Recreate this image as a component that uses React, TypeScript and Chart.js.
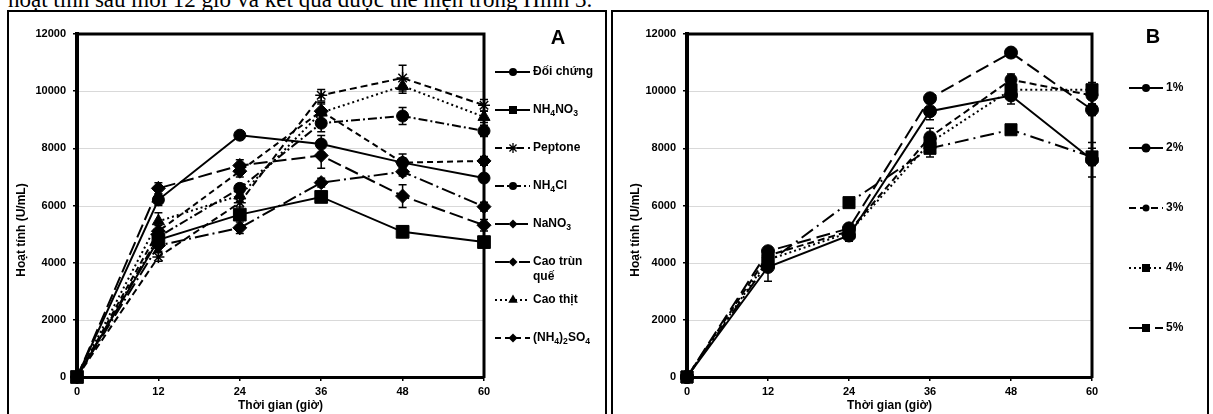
import React, { useEffect, useRef } from 'react';
import { Chart, registerables } from 'chart.js';

Chart.register(...registerables);

// ---------- shared axes / text ----------
const hours = [0, 12, 24, 36, 48, 60];
const yTickValues = [0, 2000, 4000, 6000, 8000, 10000, 12000];
const xTitle = 'Thời gian (giờ)';
const yTitle = 'Hoạt tính (U/mL)';
const headerText = 'hoạt tính sau mỗi 12 giờ và kết quả được thể hiện trong Hình 3.';

// ---------- Panel A : nitrogen sources ----------
const namesA = ['Đối chứng', 'NH₄NO₃', 'Peptone', 'NH₄Cl', 'NaNO₃', 'Cao trùn quế', 'Cao thịt', '(NH₄)₂SO₄'];
const doiChung = [0, 6200, 8460, 8150, 7500, 6960];
const nh4no3 = [0, 4800, 5680, 6300, 5080, 4720];
const peptone = [0, 4200, 6100, 9860, 10460, 9510];
const nh4cl = [0, 4900, 6600, 8880, 9130, 8610];
const nano3 = [0, 6600, 7400, 7750, 6330, 5310];
const caoTrunQue = [0, 4600, 5220, 6800, 7180, 5960];
const caoThit = [0, 5450, 6350, 9250, 10180, 9100];
const nh42so4 = [0, 5100, 7200, 9300, 7500, 7560];

const errDoiChung = [0, 200, 100, 300, 150, 150];
const errNh4no3 = [0, 200, 150, 150, 200, 100];
const errPeptone = [0, 150, 150, 200, 450, 200];
const errNh4cl = [0, 200, 150, 300, 300, 200];
const errNano3 = [0, 200, 200, 450, 400, 200];
const errCaoTrunQue = [0, 200, 200, 150, 150, 150];
const errCaoThit = [0, 300, 200, 300, 250, 200];
const errNh42so4 = [0, 200, 200, 300, 300, 150];

// ---------- Panel B : concentrations ----------
const namesB = ['1%', '2%', '3%', '4%', '5%'];
const pct1 = [0, 3850, 4950, 9300, 9850, 7600];
const pct2 = [0, 4400, 5200, 9750, 11350, 9350];
const pct3 = [0, 4250, 5100, 8400, 10400, 9850];
const pct4 = [0, 4100, 5050, 8200, 10050, 10050];
const pct5 = [0, 4000, 6100, 8000, 8650, 7700];

const errPct1 = [0, 500, 200, 300, 300, 600];
const errPct2 = [0, 150, 150, 150, 150, 200];
const errPct3 = [0, 150, 150, 300, 200, 300];
const errPct4 = [0, 150, 150, 200, 200, 250];
const errPct5 = [0, 150, 150, 300, 150, 300];

// ---------- styles ----------
type Sty = { dash: number[]; point: string; r: number; lr: number };
const stylesA: Sty[] = [
  { dash: [], point: 'circle', r: 6, lr: 4 },
  { dash: [], point: 'rect', r: 9, lr: 4 },
  { dash: [7, 4], point: 'star', r: 6, lr: 5 },
  { dash: [9, 3, 2, 3], point: 'circle', r: 6, lr: 4 },
  { dash: [14, 5], point: 'rectRot', r: 7, lr: 4.5 },
  { dash: [14, 4, 2, 4], point: 'rectRot', r: 7, lr: 4.5 },
  { dash: [2, 3], point: 'triangle', r: 7, lr: 5.5 },
  { dash: [6, 4], point: 'rectRot', r: 7, lr: 4.5 },
];
const stylesB: Sty[] = [
  { dash: [], point: 'circle', r: 6.5, lr: 4 },
  { dash: [14, 6], point: 'circle', r: 6.5, lr: 4.5 },
  { dash: [7, 4], point: 'circle', r: 6, lr: 3.5 },
  { dash: [2, 3], point: 'rect', r: 8.5, lr: 4 },
  { dash: [14, 5, 2, 5], point: 'rect', r: 8.5, lr: 4 },
];

const FONT = '"Liberation Sans", Arial, sans-serif';
const SUBS: Record<string, string> = { '₀': '0', '₁': '1', '₂': '2', '₃': '3', '₄': '4', '₅': '5', '₆': '6', '₇': '7', '₈': '8', '₉': '9' };

function richWidth(ctx: CanvasRenderingContext2D, text: string, px: number) {
  let w = 0;
  for (const ch of text) {
    if (SUBS[ch]) { ctx.font = `bold ${px * 0.72}px ${FONT}`; w += ctx.measureText(SUBS[ch]).width; }
    else { ctx.font = `bold ${px}px ${FONT}`; w += ctx.measureText(ch).width; }
  }
  return w;
}

function drawRich(ctx: CanvasRenderingContext2D, text: string, x: number, y: number, px: number) {
  ctx.textAlign = 'left';
  ctx.textBaseline = 'middle';
  let cx = x;
  for (const ch of text) {
    if (SUBS[ch]) {
      ctx.font = `bold ${px * 0.72}px ${FONT}`;
      ctx.fillText(SUBS[ch], cx, y + px * 0.3);
      cx += ctx.measureText(SUBS[ch]).width;
    } else {
      ctx.font = `bold ${px}px ${FONT}`;
      ctx.fillText(ch, cx, y);
      cx += ctx.measureText(ch).width;
    }
  }
}

function drawMarker(ctx: CanvasRenderingContext2D, kind: string, x: number, y: number, r: number) {
  ctx.save();
  ctx.setLineDash([]);
  ctx.fillStyle = '#000';
  ctx.strokeStyle = '#000';
  ctx.lineWidth = 1.3;
  ctx.beginPath();
  if (kind === 'circle') { ctx.arc(x, y, r, 0, Math.PI * 2); ctx.fill(); }
  else if (kind === 'rect') { ctx.rect(x - r, y - r, 2 * r, 2 * r); ctx.fill(); }
  else if (kind === 'rectRot') { ctx.moveTo(x - r, y); ctx.lineTo(x, y - r); ctx.lineTo(x + r, y); ctx.lineTo(x, y + r); ctx.closePath(); ctx.fill(); }
  else if (kind === 'triangle') { ctx.moveTo(x, y - r); ctx.lineTo(x + r * 0.866, y + r * 0.5); ctx.lineTo(x - r * 0.866, y + r * 0.5); ctx.closePath(); ctx.fill(); }
  else if (kind === 'star') {
    for (let k = 0; k < 4; k++) {
      const a = (k * Math.PI) / 4;
      ctx.moveTo(x - Math.cos(a) * r, y - Math.sin(a) * r);
      ctx.lineTo(x + Math.cos(a) * r, y + Math.sin(a) * r);
    }
    ctx.stroke();
  }
  ctx.restore();
}

type PanelCfg = {
  letter: string;
  left: number; top: number; w: number; h: number;
  yWidth: number; padRight: number;
  names: string[]; series: number[][]; errors: number[][]; styles: Sty[];
  legX0: number; legX1: number; legMarkX: number; legTextX: number; legY0: number; legStep: number; legWrap: number;
  letterX: number; letterY: number; yTitleX: number; yTitleY: number; xTitleY: number;
};

function makeDecor(cfg: PanelCfg) {
  return {
    id: 'decor' + cfg.letter,
    beforeDatasetsDraw(chart: any) {
      const { ctx, chartArea: a, scales } = chart;
      const y = scales.y;
      ctx.save();
      ctx.strokeStyle = '#d9d9d9';
      ctx.lineWidth = 1;
      yTickValues.forEach((v) => {
        if (v <= 0 || v >= 12000) return;
        const py = Math.round(y.getPixelForValue(v)) + 0.5;
        ctx.beginPath();
        ctx.moveTo(a.left + 2, py);
        ctx.lineTo(a.right, py);
        ctx.stroke();
      });
      ctx.strokeStyle = '#000';
      ctx.lineWidth = 3;
      ctx.beginPath();
      ctx.moveTo(a.left - 2, a.top);
      ctx.lineTo(a.right, a.top);
      ctx.lineTo(a.right, a.bottom + 1);
      ctx.stroke();
      ctx.restore();
    },
    afterDatasetsDraw(chart: any) {
      const { ctx, scales } = chart;
      const x = scales.x, y = scales.y;
      ctx.save();
      ctx.strokeStyle = '#000';
      ctx.lineWidth = 1.5;
      ctx.setLineDash([]);
      cfg.series.forEach((vals, i) => {
        vals.forEach((v, j) => {
          const e = cfg.errors[i][j];
          if (!e) return;
          const px = x.getPixelForValue(hours[j]);
          const y1 = y.getPixelForValue(v - e);
          const y2 = y.getPixelForValue(v + e);
          ctx.beginPath();
          ctx.moveTo(px, y1); ctx.lineTo(px, y2);
          ctx.moveTo(px - 4, y1); ctx.lineTo(px + 4, y1);
          ctx.moveTo(px - 4, y2); ctx.lineTo(px + 4, y2);
          ctx.stroke();
        });
      });
      ctx.restore();
    },
    afterDraw(chart: any) {
      const { ctx, chartArea: a } = chart;
      ctx.save();
      ctx.fillStyle = '#000';
      // legend
      cfg.names.forEach((name, k) => {
        const ly = cfg.legY0 + k * cfg.legStep;
        const st = cfg.styles[k];
        ctx.save();
        ctx.strokeStyle = '#000';
        ctx.lineWidth = 2;
        ctx.setLineDash(st.dash);
        ctx.beginPath();
        ctx.moveTo(cfg.legX0, ly);
        ctx.lineTo(cfg.legX1, ly);
        ctx.stroke();
        ctx.restore();
        drawMarker(ctx, st.point, cfg.legMarkX, ly, st.lr);
        const words = name.split(' ');
        const lines: string[] = [];
        let cur = '';
        words.forEach((wd) => {
          const test = cur ? cur + ' ' + wd : wd;
          if (cur && richWidth(ctx, test, 12) > cfg.legWrap) { lines.push(cur); cur = wd; }
          else cur = test;
        });
        if (cur) lines.push(cur);
        lines.forEach((ln, li) => {
          drawRich(ctx, ln, cfg.legTextX, ly + li * 15, 12);
        });
      });
      // panel letter
      ctx.font = `bold 20px ${FONT}`;
      ctx.textAlign = 'center';
      ctx.textBaseline = 'middle';
      ctx.fillText(cfg.letter, cfg.letterX, cfg.letterY);
      // x title
      ctx.font = `bold 12px ${FONT}`;
      ctx.fillText(xTitle, (a.left + a.right) / 2, cfg.xTitleY);
      // y title
      ctx.translate(cfg.yTitleX, cfg.yTitleY);
      ctx.rotate(-Math.PI / 2);
      ctx.font = `bold 12px ${FONT}`;
      ctx.fillText(yTitle, 0, 0);
      ctx.restore();
    },
  };
}

function buildConfig(cfg: PanelCfg): any {
  const datasets = cfg.series.map((vals, i) => {
    const st = cfg.styles[i];
    return {
      label: cfg.names[i],
      data: hours.map((h, j) => ({ x: h, y: vals[j] })),
      borderColor: '#000',
      backgroundColor: '#000',
      borderWidth: 2,
      borderDash: st.dash,
      pointStyle: st.point,
      pointRadius: st.r,
      pointBackgroundColor: '#000',
      pointBorderColor: '#000',
      pointBorderWidth: st.point === 'star' ? 1.5 : 1,
      tension: 0,
      fill: false,
      clip: false,
    };
  });
  const tickFont = { family: FONT, size: 11, weight: 'bold' };
  return {
    type: 'line',
    data: { datasets },
    options: {
      animation: false,
      responsive: false,
      devicePixelRatio: 1,
      layout: { padding: { left: 0, right: cfg.padRight, top: 22, bottom: 0 } },
      plugins: { legend: { display: false }, tooltip: { enabled: false } },
      scales: {
        x: {
          type: 'linear',
          min: 0,
          max: 60,
          afterBuildTicks: (s: any) => { s.ticks = hours.map((v) => ({ value: v })); },
          afterFit: (s: any) => { s.height = 37; },
          ticks: { color: '#000', font: tickFont, padding: 4, maxRotation: 0, autoSkip: false, callback: (v: any) => String(v) },
          grid: { drawOnChartArea: false, drawTicks: true, tickLength: 4, color: '#000', lineWidth: 1.5 },
          border: { display: true, color: '#000', width: 3 },
        },
        y: {
          type: 'linear',
          min: 0,
          max: 12000,
          afterBuildTicks: (s: any) => { s.ticks = yTickValues.map((v) => ({ value: v })); },
          afterFit: (s: any) => { s.width = cfg.yWidth; },
          ticks: { color: '#000', font: tickFont, padding: 7, autoSkip: false, callback: (v: any) => String(v) },
          grid: { drawOnChartArea: false, drawTicks: true, tickLength: 4, color: '#000', lineWidth: 1.5 },
          border: { display: true, color: '#000', width: 4 },
        },
      },
    },
    plugins: [makeDecor(cfg)],
  };
}

const panelA: PanelCfg = {
  letter: 'A', left: 9, top: 12, w: 596, h: 402, yWidth: 68, padRight: 121,
  names: namesA,
  series: [doiChung, nh4no3, peptone, nh4cl, nano3, caoTrunQue, caoThit, nh42so4],
  errors: [errDoiChung, errNh4no3, errPeptone, errNh4cl, errNano3, errCaoTrunQue, errCaoThit, errNh42so4],
  styles: stylesA,
  legX0: 486, legX1: 521, legMarkX: 504, legTextX: 524, legY0: 60, legStep: 38, legWrap: 68,
  letterX: 549, letterY: 26, yTitleX: 13, yTitleY: 218, xTitleY: 394,
};

const panelB: PanelCfg = {
  letter: 'B', left: 613, top: 12, w: 594, h: 402, yWidth: 74, padRight: 115,
  names: namesB,
  series: [pct1, pct2, pct3, pct4, pct5],
  errors: [errPct1, errPct2, errPct3, errPct4, errPct5],
  styles: stylesB,
  legX0: 516, legX1: 550, legMarkX: 533, legTextX: 553, legY0: 76, legStep: 60, legWrap: 60,
  letterX: 540, letterY: 25, yTitleX: 23, yTitleY: 218, xTitleY: 394,
};

function Panel({ cfg }: { cfg: PanelCfg }) {
  const ref = useRef<HTMLCanvasElement | null>(null);
  useEffect(() => {
    if (!ref.current) return;
    const chart = new Chart(ref.current, buildConfig(cfg));
    return () => chart.destroy();
  }, [cfg]);
  return (
    <canvas
      ref={ref}
      width={cfg.w}
      height={cfg.h}
      style={{ position: 'absolute', left: cfg.left, top: cfg.top, width: cfg.w, height: cfg.h }}
    />
  );
}

export default function App() {
  return (
    <div style={{ position: 'absolute', left: 0, top: 0, width: 1213, height: 414, overflow: 'hidden', background: '#fff' }}>
      <div
        style={{
          position: 'absolute', left: 8, top: -12, fontFamily: '"Liberation Serif", "Times New Roman", serif',
          fontSize: 23, lineHeight: '23px', whiteSpace: 'nowrap', color: '#000',
        }}
      >
        {headerText}
      </div>
      <div style={{ position: 'absolute', left: 7, top: 10, width: 600, height: 420, border: '2px solid #000', boxSizing: 'border-box' }} />
      <div style={{ position: 'absolute', left: 611, top: 10, width: 598, height: 420, border: '2px solid #000', boxSizing: 'border-box' }} />
      <Panel cfg={panelA} />
      <Panel cfg={panelB} />
    </div>
  );
}
